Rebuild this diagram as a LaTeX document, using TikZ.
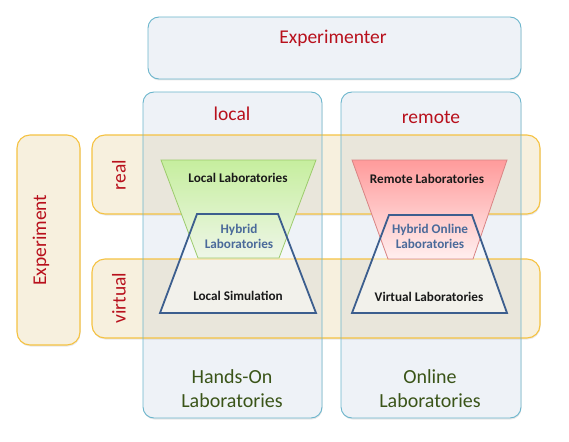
\documentclass[tikz,border=0pt]{standalone}
\usepackage{fontspec}
\setmainfont{Carlito}
\usetikzlibrary{shadows}
\definecolor{colfill}{HTML}{EEF2F7}
\definecolor{colborder}{HTML}{6BB5CC}
\definecolor{bandfill}{HTML}{F7F0DE}
\definecolor{bandborder}{HTML}{F5C242}
\definecolor{overlap}{HTML}{E9E6DB}
\definecolor{redtext}{HTML}{B8101C}
\definecolor{greentext}{HTML}{3A5418}
\definecolor{hybridtext}{HTML}{4A6A9A}
\definecolor{trapblue}{HTML}{3C5E8E}
\definecolor{greentop}{HTML}{C6EE9E}
\definecolor{greenbot}{HTML}{EEF6E8}
\definecolor{greenborder}{HTML}{9CCB6C}
\definecolor{redtop}{HTML}{FF9B9B}
\definecolor{redbot}{HTML}{FFEFEF}
\definecolor{redborder}{HTML}{D98585}
\begin{document}
\begin{tikzpicture}[x=1pt,y=-1pt,
  colbox/.style={draw=colborder, line width=0.9pt, rounded corners=11pt},
  bandbox/.style={draw=bandborder, line width=1.1pt, rounded corners=13pt},
  softshadow/.style={drop shadow={shadow xshift=0.5pt, shadow yshift=-1.5pt, opacity=0.09, fill=black}},
  bigred/.style={text=redtext, font=\fontsize{19.5}{23}\selectfont},
  biggreen/.style={text=greentext, font=\fontsize{20}{24}\selectfont, align=center},
  labtext/.style={text=black!90, font=\fontsize{13.2}{15}\selectfont\bfseries},
  hybtext/.style={text=hybridtext, font=\fontsize{13.2}{15}\selectfont\bfseries, align=center},
  simtrap/.style={draw=trapblue, line width=1.8pt, line join=miter}
]
\useasboundingbox (0,0) rectangle (569,441);
% Experimenter box
\path[colbox, fill=colfill, softshadow] (148,17) rectangle (521,79);
% columns
\fill[colfill, rounded corners=11pt, softshadow] (143,92) rectangle (322,418);
\fill[colfill, rounded corners=11pt, softshadow] (341,92) rectangle (521,418);
% bands
\fill[bandfill, rounded corners=13pt, softshadow] (92,135) rectangle (540,214);
\fill[bandfill, rounded corners=13pt, softshadow] (92,259) rectangle (540,338);
% overlaps
\begin{scope}
  \clip[rounded corners=13pt] (92,135) rectangle (540,214);
  \fill[overlap, rounded corners=11pt] (143,92) rectangle (322,418);
  \fill[overlap, rounded corners=11pt] (341,92) rectangle (521,418);
\end{scope}
\begin{scope}
  \clip[rounded corners=13pt] (92,259) rectangle (540,338);
  \fill[overlap, rounded corners=11pt] (143,92) rectangle (322,418);
  \fill[overlap, rounded corners=11pt] (341,92) rectangle (521,418);
\end{scope}
\draw[bandbox] (92,135) rectangle (540,214);
\draw[bandbox] (92,259) rectangle (540,338);
\draw[colbox] (143,92) rectangle (322,418);
\draw[colbox] (341,92) rectangle (521,418);
% Experiment box
\path[bandbox, fill=bandfill, softshadow] (17,135) rectangle (80,345);
% local trapezoids
\fill[white, opacity=0.45] (197,214) -- (278,214) -- (316,313) -- (160,313) -- cycle;
\shade[top color=greentop, bottom color=greenbot, draw=greenborder, line width=0.8pt]
  (161,160) -- (316,160) -- (279,258) -- (198,258) -- cycle;
\draw[simtrap] (197,214) -- (278,214) -- (316,313) -- (160,313) -- cycle;
% remote trapezoids
\fill[white, opacity=0.45] (389,215) -- (472,215) -- (507,313) -- (352,313) -- cycle;
\shade[top color=redtop, bottom color=redbot, draw=redborder, line width=0.8pt]
  (352,160) -- (507,160) -- (473,259) -- (388,259) -- cycle;
\draw[simtrap] (389,215) -- (472,215) -- (507,313) -- (352,313) -- cycle;
% texts
\node[bigred] (experimenter) at (333,38) {Experimenter};
\node[bigred] (local) at (232,114) {local};
\node[bigred] (remote) at (431,117) {remote};
\node[bigred, rotate=90] (experiment) at (41,240) {Experiment};
\node[bigred, rotate=90] (real) at (119,175) {real};
\node[bigred, rotate=90] (virtual) at (119,298) {virtual};
\node[labtext] (loclab) at (238,178) {Local Laboratories};
\node[hybtext] (hyblab) at (239,236) {Hybrid\\Laboratories};
\node[labtext] (locsim) at (238,296) {Local Simulation};
\node[labtext] (remlab) at (427,179) {Remote Laboratories};
\node[hybtext] (hybonl) at (430,236) {Hybrid Online\\Laboratories};
\node[labtext] (virlab) at (429,297) {Virtual Laboratories};
\node[biggreen] (handson) at (232,389) {Hands-On\\Laboratories};
\node[biggreen] (online) at (430,389) {Online\\Laboratories};
\end{tikzpicture}
\end{document}
